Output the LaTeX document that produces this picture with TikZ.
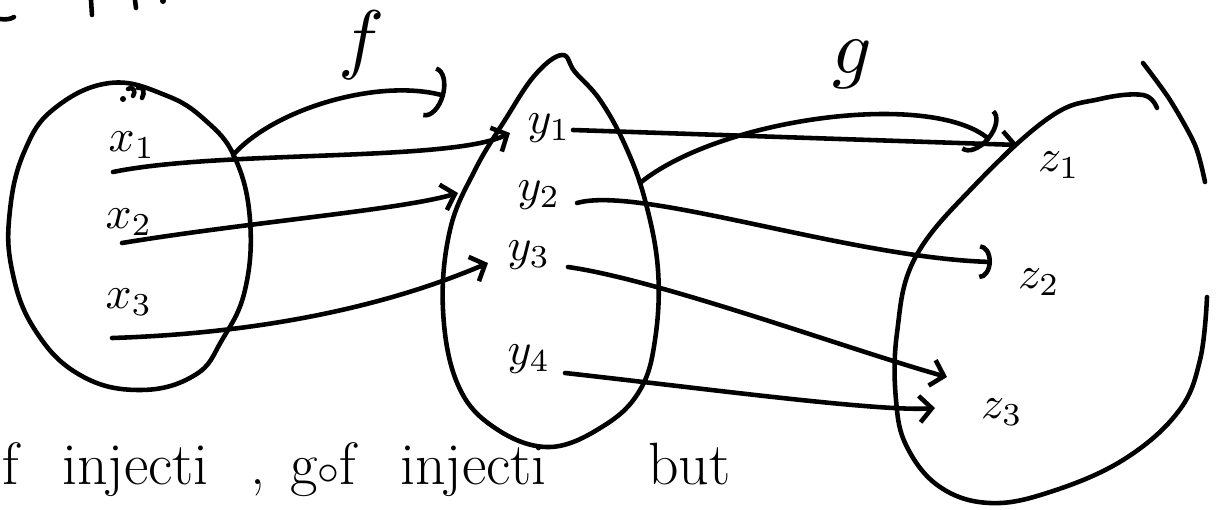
\documentclass[tikz,border=0pt]{standalone}
\usetikzlibrary{arrows.meta}
\newcommand{\labtxt}[1]{\scalebox{2.6}{$#1$}}
\newcommand{\bigtxt}[1]{\scalebox{4.4}{$#1$}}
\tikzset{
  ink/.style={line width=2.6pt, line cap=round, line join=round},
  chev/.style={ink, -{Straight Barb[length=7pt,width=15pt,line width=2.6pt]}},
  hookarr/.style={ink, -{Arc Barb[length=9pt,width=30pt,line width=2.6pt]}},
  smallhook/.style={ink, -{Arc Barb[length=7pt,width=20pt,line width=2.6pt]}},
  lab/.style={inner sep=0pt},
  txt/.style={inner sep=0pt, anchor=base west, font=\fontsize{34}{38}\selectfont}
}
\begin{document}
\begin{tikzpicture}[x=0.02cm, y=-0.02cm]
\useasboundingbox (0,0) rectangle (1218,510);
% clipped fragments at the top edge
\draw[ink] (0,19) .. controls (6,20) and (11,19) .. (14,17);
\draw[ink] (91,0) -- (92,15);
\draw[ink] (135,0) -- (136,8);
\fill (163,1) circle (3);
% set X
\draw[ink] plot[smooth cycle, tension=0.7] coordinates {(110,83) (165,95) (205,120) (235,158) (250,220) (245,290) (222,340) (195,375) (140,390) (80,375) (35,330) (12,270) (10,210) (25,150) (55,108)};
\fill (123,99) circle (3);
\draw[ink] (128,89) .. controls (134,86) and (136,92) .. (133,96);
\draw[ink] (138,88) .. controls (144,86) and (145,93) .. (142,98);
% set Y (teardrop)
\draw[ink] plot[smooth cycle, tension=0.65] coordinates {(562,55) (575,72) (600,100) (625,145) (645,200) (658,270) (655,340) (640,390) (605,425) (550,447) (495,428) (458,385) (443,310) (450,230) (475,170) (505,120) (535,75)};
% set Z
\draw[ink] plot[smooth, tension=0.65] coordinates {(1207,297) (1200,360) (1178,412) (1123,460) (1050,492) (990,503) (940,487) (907,447) (896,400) (897,333) (915,258) (975,185) (1050,117) (1100,99) (1143,95) (1157,108)};
\draw[ink] plot[smooth] coordinates {(1143,63) (1170,100) (1195,145) (1205,182)};
% labels
\node[lab] (x1) at (132,145) {\labtxt{x_1}};
\node[lab] (x2) at (129,222) {\labtxt{x_2}};
\node[lab] (x3) at (129,302) {\labtxt{x_3}};
\node[lab] (y1) at (549,128) {\labtxt{y_1}};
\node[lab] (y2) at (539,195) {\labtxt{y_2}};
\node[lab] (y3) at (529,255) {\labtxt{y_3}};
\node[lab] (y4) at (529,359) {\labtxt{y_4}};
\node[lab] (z1) at (1059,165) {\labtxt{z_1}};
\node[lab] (z2) at (1039,282) {\labtxt{z_2}};
\node[lab] (z3) at (1002,412) {\labtxt{z_3}};
\node[lab] (f) at (362,45) {\bigtxt{f}};
\node[lab] (g) at (852,64) {\bigtxt{g}};
% endpoints
\coordinate (a1s) at (113,172); \coordinate (a1e) at (510,133);
\coordinate (a2s) at (122,243); \coordinate (a2e) at (458,193);
\coordinate (a3s) at (112,338); \coordinate (a3e) at (488,263);
\coordinate (fs) at (233,155);  \coordinate (fe) at (445,96);
\coordinate (b1s) at (573,130); \coordinate (b1e) at (1018,145);
\coordinate (gs) at (640,183);  \coordinate (ge) at (990,140);
\coordinate (b2s) at (577,203); \coordinate (b2e) at (992,262);
\coordinate (b3s) at (568,267); \coordinate (b3e) at (947,377);
\coordinate (b4s) at (565,373); \coordinate (b4e) at (935,408);
% f arrows
\draw[chev] (a1s) .. controls (220,150) and (450,162) .. (a1e);
\draw[chev] (a2s) .. controls (250,222) and (400,210) .. (a2e);
\draw[chev] (a3s) .. controls (300,332) and (420,292) .. (a3e);
\draw[hookarr] (fs) .. controls (275,108) and (380,78) .. (fe);
% g arrows
\draw[chev] (b1s) -- (b1e);
\draw[hookarr] (gs) .. controls (720,118) and (930,90) .. (ge);
\draw[smallhook] (b2s) .. controls (640,185) and (850,258) .. (b2e);
\draw[chev] (b3s) .. controls (660,280) and (850,350) .. (b3e);
\draw[chev] (b4s) .. controls (700,388) and (880,412) .. (b4e);
% bottom text
\node[txt] (t1) at (2,484) {f};
\node[txt] (t2) at (62,484) {injecti};
\node[txt] (t3) at (250,484) {,};
\node[txt] (t4) at (290,484) {g$\circ$f};
\node[txt] (t5) at (400,484) {injecti};
\node[txt] (t6) at (648,484) {but};
\end{tikzpicture}
\end{document}
